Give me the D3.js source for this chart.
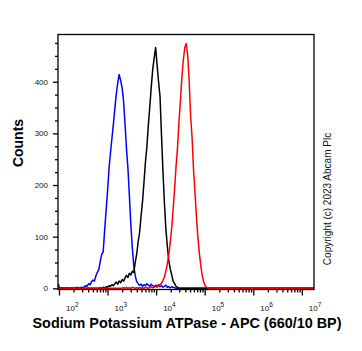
<!DOCTYPE html>
<html><head><meta charset="utf-8">
<script src="https://cdn.jsdelivr.net/npm/d3@7"></script>
<style>body{margin:0;background:#fff}svg{display:block}</style>
</head><body><svg id="c" width="362" height="351"></svg>
<script>
// ---- data (log10 bins of width binStep, counts) ----
const binStep = 0.03;
const blueStart = 1.98;
const blueCounts = [9,2,0,1,0,0,1,0,0,1,0,1,0,2,1,0,2,1,3,5,4,9,7,13,16,14,24,31,36,52,66,70,112,150,188,232,262,290,318,348,376,398,414,402,388,362,318,270,232,178,122,78,44,24,13,9,6,8,4,7,5,9,6,4,8,5,3,6,4,7,3,5,2,4,6,2,3,1,3,2,1,0];
const blackStart = 2.82;
const blackCounts = [0,1,0,2,1,3,2,5,4,7,5,9,12,8,14,11,17,14,20,25,21,29,26,33,31,50,66,90,108,140,168,205,244,274,316,352,390,424,446,466,432,400,372,298,228,166,116,82,54,38,26,14,9,4,2,0];
const redStart = 3.30;
const redCounts = [0,1,0,2,0,1,0,2,1,0,1,0,2,0,1,0,2,1,0,1,3,1,2,4,2,5,7,10,15,22,33,47,64,88,116,152,192,236,272,322,362,408,442,466,474,452,402,334,292,230,186,138,98,68,44,24,12,5,2,0];
const yTickValues = [0,100,200,300,400];
const xTickExponents = [2,3,4,5,6,7];
const xTitle = "Sodium Potassium ATPase - APC (660/10 BP)";
const yTitle = "Counts";
const copyrightText = "Copyright (c) 2023 Abcam Plc";

// ---- layout ----
const L = 58, R = 314, T = 34.5, B = 289.5;
const logMin = 1.98, logMax = 7.25;
const x = d3.scaleLog().domain([Math.pow(10, logMin), Math.pow(10, logMax)]).range([L, R]);
const y = d3.scaleLinear().domain([-2.3, 491.4]).range([B, T]);
const svg = d3.select("#c");
svg.append("rect").attr("width", 362).attr("height", 351).attr("fill", "#fff");

svg.append("clipPath").attr("id", "clip").append("rect")
  .attr("x", L).attr("y", T).attr("width", R - L).attr("height", B - T);

function seriesPoints(start, counts) {
  const pts = counts.map((c, i) => [Math.pow(10, start + i * binStep), c]);
  if (start > logMin) pts.unshift([Math.pow(10, logMin), 0]);
  pts.push([Math.pow(10, logMax), 0]);
  return pts;
}
const line = d3.line().x(d => x(d[0])).y(d => y(d[1]));
const series = [
  {start: blueStart, counts: blueCounts, color: "#0000ff"},
  {start: blackStart, counts: blackCounts, color: "#000000"},
  {start: redStart, counts: redCounts, color: "#ff0000"}
];
const g = svg.append("g").attr("clip-path", "url(#clip)");
series.forEach(s => {
  g.append("path").attr("d", line(seriesPoints(s.start, s.counts)))
    .attr("fill", "none").attr("stroke", s.color).attr("stroke-width", 1.5)
    .attr("stroke-linejoin", "round");
});

// ---- y axis ----
const font = "'Liberation Sans', Arial, sans-serif";
const yMinor = d3.range(25, 491, 25).filter(v => v % 100 !== 0);
const yAxisMinor = svg.append("g").attr("transform", `translate(${L},0)`)
  .call(d3.axisLeft(y).tickValues(yMinor).tickSize(3).tickFormat(""));
const yAxis = svg.append("g").attr("transform", `translate(${L},0)`)
  .call(d3.axisLeft(y).tickValues(yTickValues).tickSize(5).tickPadding(5));
[yAxisMinor, yAxis].forEach(a => {
  a.select(".domain").remove();
  a.selectAll("line").attr("stroke", "#000").attr("stroke-width", 1.3);
});
yAxis.selectAll("text").attr("font-family", font).attr("font-size", 8).attr("fill", "#111");

// ---- x axis ----
const xMajor = xTickExponents.map(e => Math.pow(10, e));
const xMinor = [];
for (let e = 1; e <= 7; e++) for (let k = 2; k <= 9; k++) {
  const v = k * Math.pow(10, e);
  if (Math.log10(v) >= logMin && Math.log10(v) <= logMax) xMinor.push(v);
}
const xAxisMinor = svg.append("g").attr("transform", `translate(0,${B})`)
  .call(d3.axisBottom(x).tickValues(xMinor).tickSize(3).tickFormat(""));
const xAxis = svg.append("g").attr("transform", `translate(0,${B})`)
  .call(d3.axisBottom(x).tickValues(xMajor).tickSize(6).tickFormat(""));
[xAxisMinor, xAxis].forEach(a => {
  a.select(".domain").remove();
  a.selectAll("line").attr("stroke", "#000").attr("stroke-width", 1.3);
});
xAxis.selectAll(".tick").each(function(d) {
  const t = d3.select(this).append("text").attr("x", 6.5).attr("y", 21.5)
    .attr("text-anchor", "start").attr("font-family", font).attr("font-size", 8).attr("fill", "#111");
  t.append("tspan").text("10");
  t.append("tspan").attr("dy", -4.5).attr("font-size", 6.5).text(Math.round(Math.log10(d)));
});

// ---- frame ----
svg.append("rect").attr("x", L).attr("y", T).attr("width", R - L).attr("height", B - T)
  .attr("fill", "none").attr("stroke", "#000").attr("stroke-width", 1.3);

// ---- titles ----
svg.append("text").attr("x", 187).attr("y", 327.5).attr("text-anchor", "middle")
  .attr("font-family", font).attr("font-weight", "bold").attr("font-size", 14.4).text(xTitle);
svg.append("text").attr("transform", "translate(23,143) rotate(-90)").attr("text-anchor", "middle")
  .attr("font-family", font).attr("font-weight", "bold").attr("font-size", 14).text(yTitle);
svg.append("text").attr("transform", "translate(330.5,199) rotate(-90)").attr("text-anchor", "middle")
  .attr("font-family", font).attr("font-size", 10).attr("fill", "#111").text(copyrightText);
</script></body></html>
